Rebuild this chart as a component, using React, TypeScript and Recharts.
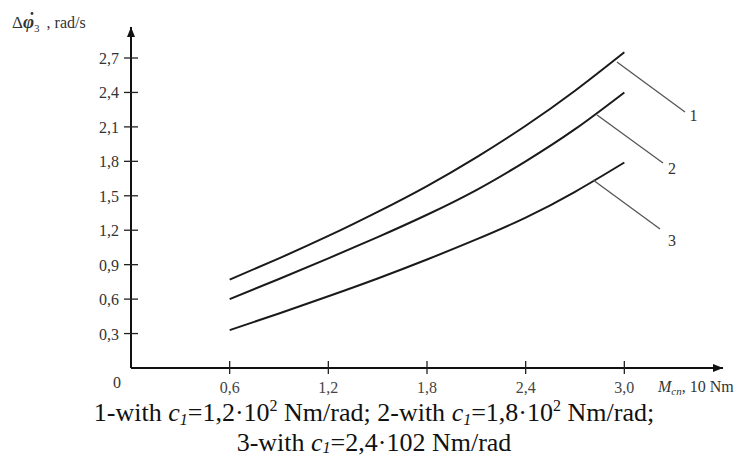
import React from 'react';
import { LineChart, Line, XAxis, YAxis, ReferenceLine, ReferenceDot, Label } from 'recharts';

// Torque M_cn (x 10 Nm)
const xValues = [0.6, 0.9, 1.2, 1.5, 1.8, 2.1, 2.4, 2.7, 3.0];
// Δφ̇3, rad/s
const curve1 = [0.77, 0.955, 1.15, 1.36, 1.585, 1.835, 2.11, 2.415, 2.75];
const curve2 = [0.6, 0.775, 0.955, 1.14, 1.335, 1.55, 1.8, 2.08, 2.4];
const curve3 = [0.33, 0.475, 0.625, 0.78, 0.945, 1.12, 1.31, 1.535, 1.79];

const xTicks = [0.6, 1.2, 1.8, 2.4, 3.0];
const yTicks = [0.3, 0.6, 0.9, 1.2, 1.5, 1.8, 2.1, 2.4, 2.7];

const seriesNames = ['1', '2', '3'];
// leader line annotation points (data coordinates)
const leaderStart = [
  [2.955, 2.665],
  [2.834, 2.204],
  [2.81, 1.638],
];
const leaderEnd = [
  [3.369, 2.23],
  [3.235, 1.786],
  [3.217, 1.211],
];
const labelPos = [
  [3.42, 2.2],
  [3.29, 1.74],
  [3.29, 1.115],
];

const data = xValues.map((x, i) => ({ x, c1: curve1[i], c2: curve2[i], c3: curve3[i] }));

const fmt = (v: number) => v.toFixed(1).replace('.', ',');
const FONT = '"Liberation Serif", "Times New Roman", serif';

const XTick = (props: any) => {
  const { x, y, payload } = props;
  return (
    <g>
      <line x1={x} x2={x} y1={y - 7} y2={y + 6} stroke="#222" strokeWidth={1.3} />
      <text x={x} y={y + 25} textAnchor="middle" fontFamily={FONT} fontSize={16} fill="#444">
        {fmt(payload.value)}
      </text>
    </g>
  );
};

const YTick = (props: any) => {
  const { x, y, payload } = props;
  return (
    <g>
      <line x1={x - 7} x2={x + 7} y1={y} y2={y} stroke="#222" strokeWidth={1.3} />
      <text x={x - 12} y={y + 6} textAnchor="end" fontFamily={FONT} fontSize={16} fill="#333">
        {fmt(payload.value)}
      </text>
    </g>
  );
};

const XDeco = (props: any) => {
  const vb = props.viewBox || { x: 131, y: 368, width: 592, height: 0 };
  const ex = vb.x + vb.width;
  const ey = vb.y;
  return (
    <g fontFamily={FONT}>
      <polygon points={`${ex},${ey} ${ex - 10},${ey - 4} ${ex - 10},${ey + 4}`} fill="#111" />
      <text x={vb.x - 14} y={ey + 20} textAnchor="middle" fontSize={16} fill="#333">0</text>
      <text x={ex - 65} y={ey + 24} fontSize={16} fill="#333">
        <tspan fontStyle="italic">M</tspan>
        <tspan fontStyle="italic" fontSize={11} dy={3}>cn</tspan>
        <tspan dy={-3}>, 10 Nm</tspan>
      </text>
      <text x={374} y={ey + 53} textAnchor="middle" fontSize={26} fill="#111">
        <tspan>1-with </tspan>
        <tspan fontStyle="italic">c</tspan>
        <tspan fontStyle="italic" fontSize={16} dy={4}>1</tspan>
        <tspan dy={-4}>=1,2·10</tspan>
        <tspan fontSize={16} dy={-10}>2</tspan>
        <tspan dy={10}> Nm/rad; 2-with </tspan>
        <tspan fontStyle="italic">c</tspan>
        <tspan fontStyle="italic" fontSize={16} dy={4}>1</tspan>
        <tspan dy={-4}>=1,8·10</tspan>
        <tspan fontSize={16} dy={-10}>2</tspan>
        <tspan dy={10}> Nm/rad;</tspan>
      </text>
      <text x={374} y={ey + 83} textAnchor="middle" fontSize={26} fill="#111">
        <tspan>3-with </tspan>
        <tspan fontStyle="italic">c</tspan>
        <tspan fontStyle="italic" fontSize={16} dy={2}>1</tspan>
        <tspan dy={-2}>=2,4·102 Nm/rad</tspan>
      </text>
    </g>
  );
};

const YDeco = (props: any) => {
  const vb = props.viewBox || { x: 71, y: 27, width: 60, height: 341 };
  const ax = vb.x + vb.width;
  const ty = vb.y;
  return (
    <g fontFamily={FONT}>
      <polygon points={`${ax},${ty} ${ax - 4},${ty + 10} ${ax + 4},${ty + 10}`} fill="#111" />
      <text x={12} y={28} fontSize={17} fill="#333">
        <tspan>Δ</tspan>
        <tspan fontStyle="italic" fontWeight="bold" fontSize={19}>φ</tspan>
        <tspan fontSize={11} dy={4}>3</tspan>
        <tspan dy={-4} dx={7} fontSize={16}>, rad/s</tspan>
      </text>
      <circle cx={32} cy={13.5} r={1.4} fill="#333" />
    </g>
  );
};

const NumLabel = (props: any) => {
  const vb = props.viewBox || {};
  const cx = (vb.x ?? 0) + (vb.width ?? 0) / 2;
  const cy = (vb.y ?? 0) + (vb.height ?? 0) / 2;
  return (
    <text x={cx} y={cy + 6} textAnchor="middle" fontFamily={FONT} fontSize={16} fill="#333">
      {props.value}
    </text>
  );
};

export default function App() {
  return (
    <div style={{ position: 'absolute', left: 0, top: 0, width: 745, height: 456, background: '#fff' }}>
      <LineChart
        width={745}
        height={456}
        data={data}
        margin={{ top: 27, right: 22, bottom: 58, left: 71 }}
      >
        <XAxis
          dataKey="x"
          type="number"
          domain={[0, 3.6]}
          ticks={xTicks}
          interval={0}
          allowDataOverflow
          height={30}
          tickLine={false}
          tickSize={0}
          tickMargin={0}
          tick={(p: any) => <XTick {...p} />}
          axisLine={{ stroke: '#111', strokeWidth: 2 }}
        >
          <Label content={(p: any) => <XDeco {...p} />} />
        </XAxis>
        <YAxis
          type="number"
          domain={[0, 2.97]}
          ticks={yTicks}
          interval={0}
          allowDataOverflow
          width={60}
          tickLine={false}
          tickSize={0}
          tickMargin={0}
          tick={(p: any) => <YTick {...p} />}
          axisLine={{ stroke: '#111', strokeWidth: 2 }}
        >
          <Label content={(p: any) => <YDeco {...p} />} />
        </YAxis>
        <Line dataKey="c1" type="natural" stroke="#1a1a1a" strokeWidth={2} dot={false} isAnimationActive={false} />
        <Line dataKey="c2" type="natural" stroke="#1a1a1a" strokeWidth={2} dot={false} isAnimationActive={false} />
        <Line dataKey="c3" type="natural" stroke="#1a1a1a" strokeWidth={2} dot={false} isAnimationActive={false} />
        {seriesNames.map((name, i) => (
          <ReferenceLine
            key={'l' + name}
            segment={[
              { x: leaderStart[i][0], y: leaderStart[i][1] },
              { x: leaderEnd[i][0], y: leaderEnd[i][1] },
            ]}
            stroke="#555"
            strokeWidth={1.3}
            ifOverflow="visible"
          />
        ))}
        {seriesNames.map((name, i) => (
          <ReferenceDot
            key={'t' + name}
            x={labelPos[i][0]}
            y={labelPos[i][1]}
            r={0}
            fill="none"
            stroke="none"
            ifOverflow="visible"
            label={<Label value={name} content={(p: any) => <NumLabel {...p} value={name} />} />}
          />
        ))}
      </LineChart>
    </div>
  );
}
